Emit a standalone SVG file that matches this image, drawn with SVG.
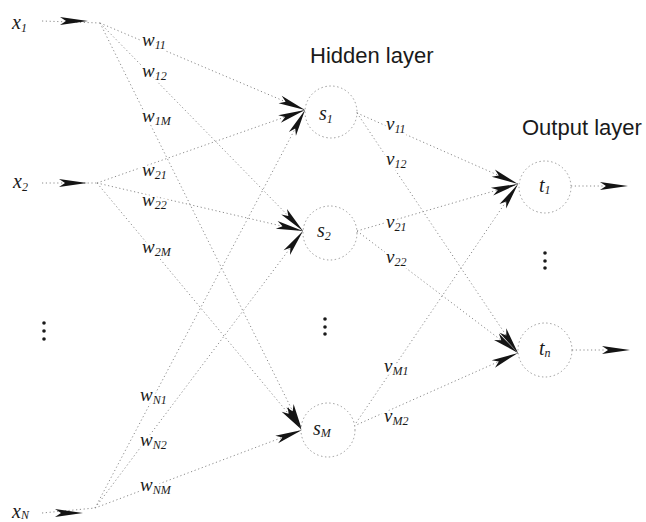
<svg xmlns="http://www.w3.org/2000/svg" xmlns:xlink="http://www.w3.org/1999/xlink" width="646" height="522" viewBox="0 0 646 522">
  <style>
    .conn { fill: none; stroke: #8c8c8c; stroke-width: 1; stroke-dasharray: 1.2 2.6; marker-end: url(#head); }
    .feed { fill: none; stroke: #8c8c8c; stroke-width: 1; stroke-dasharray: 1.2 2.6; }
    .node { fill: #fff; stroke: #969696; stroke-width: 1; stroke-dasharray: 1.4 2.6; }
    .dart { fill: #141414; }
    .var { font-family: "Liberation Serif", "DejaVu Serif", serif; font-style: italic; font-size: 20px; fill: #1a1a1a; }
    .wt { font-family: "Liberation Serif", "DejaVu Serif", serif; font-style: italic; font-size: 19px; fill: #1a1a1a; paint-order: stroke; stroke: #fff; stroke-width: 5px; stroke-linejoin: round; }
    .sub { font-size: 12px; }
    .title { font-family: "Liberation Sans", Arial, sans-serif; font-size: 22px; fill: #1a1a1a; }
    .dot { fill: #1a1a1a; }
  </style>
  <defs>
    <marker id="head" viewBox="-28 -4.5 29 9" refX="0" refY="0" markerWidth="29" markerHeight="9" markerUnits="userSpaceOnUse" orient="auto">
      <path class="dart" d="M-27,-4 L0,0 L-27,4 L-21,0 Z"/>
    </marker>
    <path id="dart" class="dart" d="M-28,-4 L0,0 L-28,4 L-22,0 Z"/>
  </defs>

  <!-- weighted connections: inputs to hidden, hidden to outputs -->
  <g id="connectors">
    <!-- x1 -->
    <line class="conn" x1="100" y1="23" x2="305" y2="110"/>
    <line class="conn" x1="100" y1="23" x2="303" y2="231"/>
    <line class="conn" x1="100" y1="23" x2="302" y2="430"/>
    <!-- x2 -->
    <line class="conn" x1="97" y1="183" x2="305" y2="110"/>
    <line class="conn" x1="97" y1="183" x2="303" y2="231"/>
    <line class="conn" x1="97" y1="183" x2="302" y2="430"/>
    <!-- xN -->
    <line class="conn" x1="95" y1="508" x2="305" y2="110"/>
    <line class="conn" x1="95" y1="508" x2="303" y2="231"/>
    <line class="conn" x1="95" y1="508" x2="302" y2="430"/>
    <!-- hidden to output -->
    <line class="conn" x1="357" y1="113" x2="518" y2="184"/>
    <line class="conn" x1="357" y1="113" x2="518" y2="353"/>
    <line class="conn" x1="357" y1="231" x2="518" y2="184"/>
    <line class="conn" x1="357" y1="231" x2="518" y2="353"/>
    <line class="conn" x1="354" y1="426" x2="518" y2="184"/>
    <line class="conn" x1="354" y1="426" x2="518" y2="353"/>
    <!-- input feeds -->
    <line class="feed" x1="42" y1="21" x2="100" y2="23"/>
    <line class="feed" x1="42" y1="183" x2="97" y2="183"/>
    <line class="feed" x1="42" y1="513" x2="95" y2="508"/>
    <!-- output feeds -->
    <line class="feed" x1="571" y1="186" x2="606" y2="186"/>
    <line class="feed" x1="572" y1="350" x2="606" y2="350"/>
    <use xlink:href="#dart" x="88" y="21"/>
    <use xlink:href="#dart" x="87" y="183"/>
    <use xlink:href="#dart" x="83" y="513"/>
    <use xlink:href="#dart" x="628" y="186"/>
    <use xlink:href="#dart" x="630" y="350"/>
  </g>

  <!-- weight labels -->
  <g id="weights">
    <text class="wt" x="142" y="46">w<tspan class="sub" dy="3">11</tspan></text>
    <text class="wt" x="142" y="76.5">w<tspan class="sub" dy="3">12</tspan></text>
    <text class="wt" x="142" y="122">w<tspan class="sub" dy="3">1M</tspan></text>
    <text class="wt" x="142" y="175.5">w<tspan class="sub" dy="3">21</tspan></text>
    <text class="wt" x="142" y="205.5">w<tspan class="sub" dy="3">22</tspan></text>
    <text class="wt" x="142" y="252.5">w<tspan class="sub" dy="3">2M</tspan></text>
    <text class="wt" x="140" y="400.5">w<tspan class="sub" dy="3">N1</tspan></text>
    <text class="wt" x="140" y="445.5">w<tspan class="sub" dy="3">N2</tspan></text>
    <text class="wt" x="140" y="490.5">w<tspan class="sub" dy="3">NM</tspan></text>
    <text class="wt" x="386" y="129.5">v<tspan class="sub" dy="3">11</tspan></text>
    <text class="wt" x="386" y="164.5">v<tspan class="sub" dy="3">12</tspan></text>
    <text class="wt" x="386" y="227.5">v<tspan class="sub" dy="3">21</tspan></text>
    <text class="wt" x="386" y="262.5">v<tspan class="sub" dy="3">22</tspan></text>
    <text class="wt" x="384" y="371.5">v<tspan class="sub" dy="3">M1</tspan></text>
    <text class="wt" x="384" y="421.5">v<tspan class="sub" dy="3">M2</tspan></text>
  </g>

  <!-- input layer -->
  <g id="x1"><text class="var" x="12" y="29">x<tspan class="sub" dy="3">1</tspan></text></g>
  <g id="x2"><text class="var" x="13" y="188">x<tspan class="sub" dy="3">2</tspan></text></g>
  <g id="xN"><text class="var" x="12" y="518">x<tspan class="sub" dy="1">N</tspan></text></g>
  <g id="input-dots">
    <circle class="dot" cx="44" cy="323" r="1.8"/>
    <circle class="dot" cx="44" cy="331" r="1.8"/>
    <circle class="dot" cx="44" cy="339" r="1.8"/>
  </g>

  <!-- hidden layer -->
  <text class="title" x="310" y="63">Hidden layer</text>
  <g id="s1">
    <circle class="node" cx="331" cy="112" r="26"/>
    <text class="var" x="319" y="120">s<tspan class="sub" dy="3">1</tspan></text>
  </g>
  <g id="s2">
    <circle class="node" cx="330" cy="233" r="27"/>
    <text class="var" x="317" y="237">s<tspan class="sub" dy="3">2</tspan></text>
  </g>
  <g id="sM">
    <circle class="node" cx="328" cy="430" r="27"/>
    <text class="var" x="313" y="435">s<tspan class="sub" dy="2">M</tspan></text>
  </g>
  <g id="hidden-dots">
    <circle class="dot" cx="325" cy="319" r="1.8"/>
    <circle class="dot" cx="325" cy="327" r="1.8"/>
    <circle class="dot" cx="325" cy="334" r="1.8"/>
  </g>

  <!-- output layer -->
  <text class="title" x="522" y="135">Output layer</text>
  <g id="t1">
    <circle class="node" cx="545" cy="187" r="26"/>
    <text class="var" x="539" y="192">t<tspan class="sub" dy="2">1</tspan></text>
  </g>
  <g id="tn">
    <circle class="node" cx="545" cy="350" r="27"/>
    <text class="var" x="539" y="355">t<tspan class="sub" dy="2">n</tspan></text>
  </g>
  <g id="output-dots">
    <circle class="dot" cx="545" cy="253" r="1.8"/>
    <circle class="dot" cx="545" cy="261" r="1.8"/>
    <circle class="dot" cx="545" cy="268" r="1.8"/>
  </g>
</svg>
